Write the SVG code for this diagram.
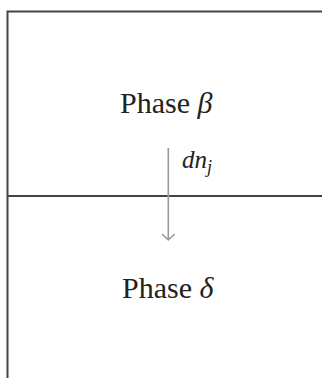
<svg xmlns="http://www.w3.org/2000/svg" width="325" height="378" viewBox="0 0 325 378">
<style>
.border{stroke:#444;stroke-width:2;fill:none}
.lbl{font-family:"Liberation Serif","Times New Roman",serif;font-size:30px;fill:#222}
.math{font-style:italic}
.conn{stroke:#999;stroke-width:1.6;fill:none}
</style>
<rect width="325" height="378" fill="#fff"/>
<g id="frame">
<path class="border" d="M7.5,378 V11.5 H322"/>
<path class="border" d="M7.5,196 H322"/>
</g>
<g id="phase-beta">
<text class="lbl" x="120" y="113">Phase <tspan class="math">β</tspan></text>
</g>
<g id="phase-delta">
<text class="lbl" x="122" y="298">Phase <tspan class="math">δ</tspan></text>
</g>
<g id="connectors">
<path class="conn" d="M168.3,148 V240"/>
<path class="conn" d="M162,234 L168.3,240 L174.6,234"/>
<text class="lbl math" x="182" y="168" style="font-size:25px">dn<tspan style="font-size:18px" dy="5">j</tspan></text>
</g>
</svg>
